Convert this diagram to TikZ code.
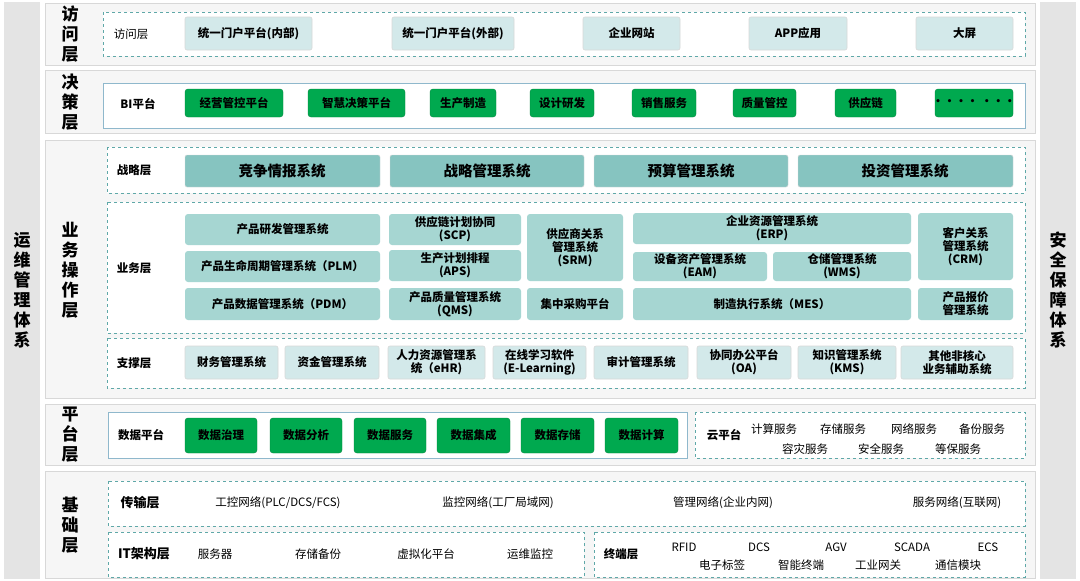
\documentclass[tikz,border=0pt]{standalone}
\usepackage{fontspec}
\setmainfont{Noto Sans CJK SC}
\definecolor{side}{HTML}{E4E4E4}
\definecolor{panel}{HTML}{F6F6F6}
\definecolor{pline}{HTML}{D8D8D8}
\definecolor{dline}{HTML}{5FA8A8}
\definecolor{lt}{HTML}{D3E9EA}
\definecolor{gr}{HTML}{00A94F}
\definecolor{st}{HTML}{86C4C0}
\definecolor{bz}{HTML}{A6D6D2}
\definecolor{bline}{HTML}{8FB8CC}
\tikzset{x=1pt,y=-1pt,
 panelbox/.style={fill=panel,draw=pline,line width=0.8pt},
 dbox/.style={draw=dline,dashed,line width=0.7pt,fill=white},
 sbox/.style={draw=bline,line width=0.8pt,fill=white},
 lbox/.style={fill=lt,draw=pline,rounded corners=2pt,line width=0.6pt},
 gbox/.style={fill=gr,draw=gr!80!black,rounded corners=3pt,line width=0.4pt},
 tbox/.style={fill=st,draw=pline,rounded corners=2pt},
 bbox/.style={fill=bz,draw=none,rounded corners=3pt},
 lbl/.style={font=\bfseries\fontsize{11.5}{13}\selectfont,align=center,inner sep=0pt},
 slbl/.style={font=\bfseries\fontsize{14.5}{16}\selectfont,align=center,inner sep=0pt},
 big/.style={font=\bfseries\fontsize{17}{20}\selectfont,align=center,inner sep=0pt},
 reg/.style={font=\fontsize{11.5}{13}\selectfont,inner sep=0pt}}
\newcommand\bx[7]{\path[#6] (#2,#3) rectangle (#4,#5); \node[lbl] (#1) at ({(#2+#4)/2},{(#3+#5)/2}) {#7};}
\begin{document}
\begin{tikzpicture}
\useasboundingbox (0,0) rectangle (1080,581);
\fill[white] (0,0) rectangle (1080,581);
% sidebars
\fill[side] (4,2) rectangle (40,579);
\fill[side] (1040,2) rectangle (1076,579);
\node[big] (lside) at (22,290) {运\\维\\管\\理\\体\\系};
\node[big] (rside) at (1058,290) {安\\全\\保\\障\\体\\系};
% panels
\draw[panelbox] (45,3) rectangle (1035,65);
\draw[panelbox] (45,70) rectangle (1035,133);
\draw[panelbox] (45,140) rectangle (1035,398);
\draw[panelbox] (45,404) rectangle (1035,465);
\draw[panelbox] (45,471) rectangle (1035,578);
\node[big] (t1) at (70,34) {访\\问\\层};
\node[big] (t2) at (70,102) {决\\策\\层};
\node[big] (t3) at (70,270) {业\\务\\操\\作\\层};
\node[big] (t4) at (70,435) {平\\台\\层};
\node[big] (t5) at (70,525) {基\\础\\层};
% access
\draw[dbox] (103,12) rectangle (1025,56);
\node[lbl,font=\fontsize{11.5}{13}\selectfont] (a0) at (131,34) {访问层};
\bx{a1}{185}{17}{312}{50}{lbox}{统一门户平台(内部)}
\bx{a2}{392}{17}{514}{50}{lbox}{统一门户平台(外部)}
\bx{a3}{583}{17}{680}{50}{lbox}{企业网站}
\bx{a4}{749}{17}{847}{50}{lbox}{APP应用}
\bx{a5}{916}{17}{1013}{50}{lbox}{大屏}
% BI
\draw[sbox] (103,83) rectangle (1025,128);
\node[lbl] (b0) at (138,104) {BI平台};
\bx{b1}{185}{89}{283}{117}{gbox}{经营管控平台}
\bx{b2}{308}{89}{405}{117}{gbox}{智慧决策平台}
\bx{b3}{430}{89}{496}{117}{gbox}{生产制造}
\bx{b4}{530}{89}{594}{117}{gbox}{设计研发}
\bx{b5}{632}{89}{696}{117}{gbox}{销售服务}
\bx{b6}{733}{89}{796}{117}{gbox}{质量管控}
\bx{b7}{835}{89}{896}{117}{gbox}{供应链}
\bx{b8}{935}{89}{1013}{117}{gbox}{•••• •••}
% strategy
\draw[dbox] (107,147) rectangle (1025,193);
\node[lbl] (s0) at (134,170) {战略层};
\path[tbox] (185,155) rectangle (380,187); \node[slbl] (s1) at (282,171) {竞争情报系统};
\path[tbox] (390,155) rectangle (584,187); \node[slbl] (s2) at (487,171) {战略管理系统};
\path[tbox] (594,155) rectangle (788,187); \node[slbl] (s3) at (691,171) {预算管理系统};
\path[tbox] (798,155) rectangle (1013,187); \node[slbl] (s4) at (905,171) {投资管理系统};
% business
\draw[dbox] (107,202) rectangle (1025,333);
\node[lbl] (y0) at (134,268) {业务层};
\bx{y1}{185}{214}{380}{245}{bbox}{产品研发管理系统}
\bx{y2}{185}{251}{380}{282}{bbox}{产品生命周期管理系统（PLM）}
\bx{y3}{185}{288}{380}{320}{bbox}{产品数据管理系统（PDM）}
\bx{y4}{389}{214}{521}{245}{bbox}{供应链计划协同\\(SCP)}
\bx{y5}{389}{250}{521}{281}{bbox}{生产计划排程\\(APS)}
\bx{y6}{389}{288}{521}{320}{bbox}{产品质量管理系统\\(QMS)}
\bx{y7}{527}{214}{623}{281}{bbox}{供应商关系\\管理系统\\(SRM)}
\bx{y8}{527}{288}{623}{320}{bbox}{集中采购平台}
\bx{y9}{633}{213}{911}{244}{bbox}{企业资源管理系统\\(ERP)}
\bx{y10}{633}{252}{767}{281}{bbox}{设备资产管理系统\\(EAM)}
\bx{y11}{773}{252}{911}{281}{bbox}{仓储管理系统\\(WMS)}
\bx{y12}{633}{288}{911}{320}{bbox}{制造执行系统（MES）}
\bx{y13}{918}{213}{1013}{280}{bbox}{客户关系\\管理系统\\(CRM)}
\bx{y14}{918}{288}{1013}{320}{bbox}{产品报价\\管理系统}
% support
\draw[dbox] (107,338) rectangle (1025,388);
\node[lbl] (z0) at (134,363) {支撑层};
\bx{z1}{185}{346}{278}{379}{lbox}{财务管理系统}
\bx{z2}{285}{346}{379}{379}{lbox}{资金管理系统}
\bx{z3}{388}{346}{485}{379}{lbox}{人力资源管理系\\统（eHR)}
\bx{z4}{493}{346}{586}{379}{lbox}{在线学习软件\\(E-Learning)}
\bx{z5}{594}{346}{688}{379}{lbox}{审计管理系统}
\bx{z6}{697}{346}{791}{379}{lbox}{协同办公平台\\(OA)}
\bx{z7}{798}{346}{896}{379}{lbox}{知识管理系统\\(KMS)}
\bx{z8}{901}{346}{1013}{379}{lbox}{其他非核心\\业务辅助系统}
% platform
\draw[sbox] (108,412) rectangle (687,458);
\node[lbl] (p0) at (141,435) {数据平台};
\bx{p1}{185}{418}{257}{453}{gbox}{数据治理}
\bx{p2}{270}{418}{342}{453}{gbox}{数据分析}
\bx{p3}{354}{418}{426}{453}{gbox}{数据服务}
\bx{p4}{437}{418}{510}{453}{gbox}{数据集成}
\bx{p5}{521}{418}{594}{453}{gbox}{数据存储}
\bx{p6}{605}{418}{678}{453}{gbox}{数据计算}
\draw[dbox] (695,412) rectangle (1025,458);
\node[lbl] (c0) at (724,435) {云平台};
\node[reg] (c1) at (774,429) {计算服务};
\node[reg] (c2) at (843,429) {存储服务};
\node[reg] (c3) at (914,429) {网络服务};
\node[reg] (c4) at (982,429) {备份服务};
\node[reg] (c5) at (805,449) {容灾服务};
\node[reg] (c6) at (881,449) {安全服务};
\node[reg] (c7) at (958,449) {等保服务};
% base
\draw[dbox] (108,481) rectangle (1025,526);
\node[lbl,font=\bfseries\fontsize{13}{14}\selectfont] (f0) at (140,503) {传输层};
\node[reg] (f1) at (278,503) {工控网络(PLC/DCS/FCS)};
\node[reg] (f2) at (498,503) {监控网络(工厂局域网)};
\node[reg] (f3) at (723,503) {管理网络(企业内网)};
\node[reg] (f4) at (957,503) {服务网络(互联网)};
\draw[dbox] (108,532) rectangle (584,577);
\node[lbl,font=\bfseries\fontsize{13}{14}\selectfont] (g0) at (144,554) {IT架构层};
\node[reg] (g1) at (215,554) {服务器};
\node[reg] (g2) at (318,554) {存储备份};
\node[reg] (g3) at (426,554) {虚拟化平台};
\node[reg] (g4) at (530,554) {运维监控};
\draw[dbox] (594,532) rectangle (1025,577);
\node[lbl] (h0) at (621,554) {终端层};
\node[reg] (h1) at (684,547) {RFID};
\node[reg] (h2) at (759,547) {DCS};
\node[reg] (h3) at (836,547) {AGV};
\node[reg] (h4) at (912,547) {SCADA};
\node[reg] (h5) at (988,547) {ECS};
\node[reg] (h6) at (722,565) {电子标签};
\node[reg] (h7) at (801,565) {智能终端};
\node[reg] (h8) at (878,565) {工业网关};
\node[reg] (h9) at (958,565) {通信模块};
\end{tikzpicture}
\end{document}
